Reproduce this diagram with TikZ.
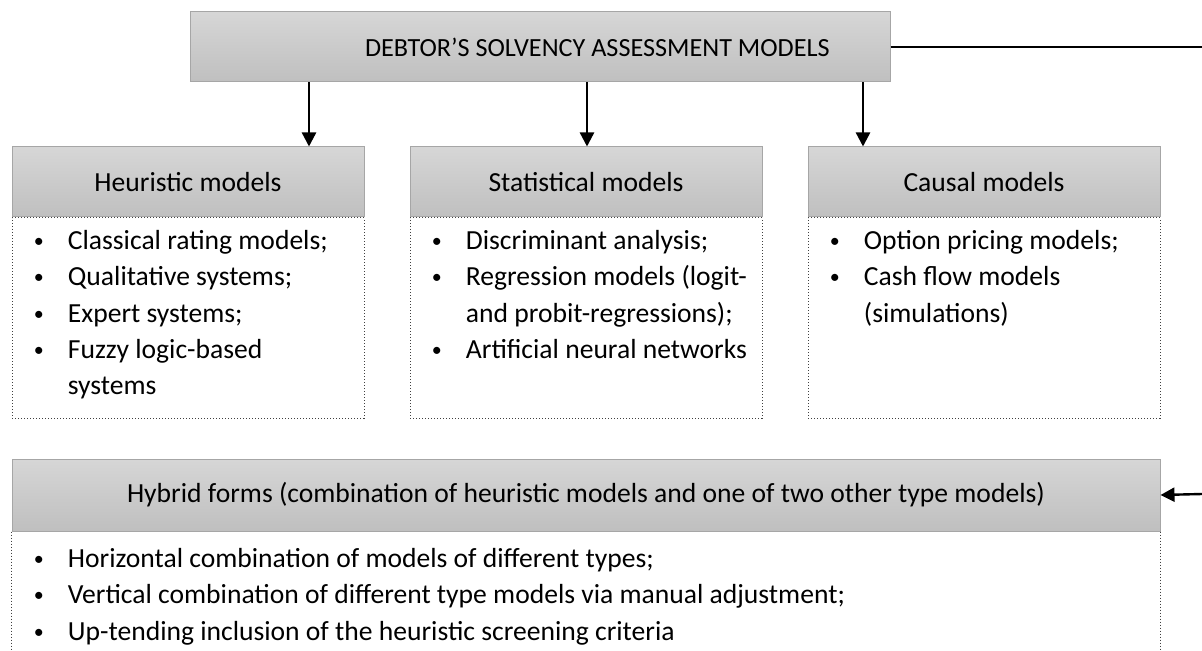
\documentclass[tikz,border=0pt]{standalone}
\usepackage{fontspec}
\setmainfont{Carlito}
\usetikzlibrary{positioning,arrows.meta}

\newcommand{\bitem}[1]{\strut\makebox[28pt][l]{\hspace{11pt}\raisebox{1pt}{\fontsize{10}{10}\selectfont\textbullet}}#1}
\newcommand{\bcont}[1]{\strut\hspace{28pt}#1}

\begin{document}
\begin{tikzpicture}[x=0.5pt,y=-0.5pt,
    font=\fontsize{13.8}{18.2}\selectfont,
    head/.style={draw=black!35,line width=0.5pt,top color=black!16,bottom color=black!25,
                 minimum width=176pt,minimum height=35pt,inner sep=0pt},
    body/.style={draw=black!75,densely dotted,line width=0.5pt,
                 minimum width=176pt,minimum height=100pt,inner sep=0pt},
    list/.style={align=left,inner sep=0pt},
    arr/.style={line width=1.2pt,-{Triangle[length=7pt,width=7pt]}}]
    \useasboundingbox (0,0) rectangle (1202,651);

    \node[head,minimum width=350pt,text width=350pt,align=flush left,font=\fontsize{13.1}{16}\selectfont]
        (top) at (540,47) {\hspace*{87.5pt}DEBTOR’S SOLVENCY ASSESSMENT MODELS};

    \node[head] (heur) at (188,182) {Heuristic models};
    \node[head] (stat) at (586,182) {Statistical models};
    \node[head] (caus) at (984,182) {Causal models};

    \node[body,below=0pt of heur] (heurbody) {};
    \node[body,below=0pt of stat] (statbody) {};
    \node[body,below=0pt of caus] (causbody) {};

    \node[list,below right=3pt and 0pt of heur.south west] (heurlist)
        {\bitem{Classical rating models;}\\ \bitem{Qualitative systems;}\\
         \bitem{Expert systems;}\\ \bitem{Fuzzy logic-based}\\ \bcont{systems}};
    \node[list,below right=3pt and 0pt of stat.south west] (statlist)
        {\bitem{Discriminant analysis;}\\ \bitem{Regression models (logit-}\\
         \bcont{and probit-regressions);}\\ \bitem{Artificial neural networks}};
    \node[list,below right=3pt and 0pt of caus.south west] (causlist)
        {\bitem{Option pricing models;}\\ \bitem{Cash flow models}\\ \bcont{(simulations)}};

    \node[head,minimum width=574pt,minimum height=36pt] (hyb) at (586,495)
        {Hybrid forms (combination of heuristic models and one of two other type models)};
    \node[minimum width=574pt,minimum height=60pt,inner sep=0pt,below=0pt of hyb] (hybbody) {};
    \draw[black!75,densely dotted,line width=0.5pt]
        (hybbody.north west) -- (hybbody.south west)
        (hybbody.north east) -- (hybbody.south east);
    \node[list,below right=5pt and 0pt of hyb.south west] (hyblist)
        {\bitem{Horizontal combination of models of different types;}\\
         \bitem{Vertical combination of different type models via manual adjustment;}\\
         \bitem{Up-tending inclusion of the heuristic screening criteria}};

    \foreach \x/\n in {309/heur,587/stat,863/caus}
        \draw[arr] (top.south -| \x,0) -- (\n.north -| \x,0);

    \coordinate (out) at (1202,47);
    \coordinate (in) at (1202,494);
    \draw[line width=1.2pt] (top.east) -- (out);
    \draw[arr] (in) -- (hyb.east);
\end{tikzpicture}
\end{document}
